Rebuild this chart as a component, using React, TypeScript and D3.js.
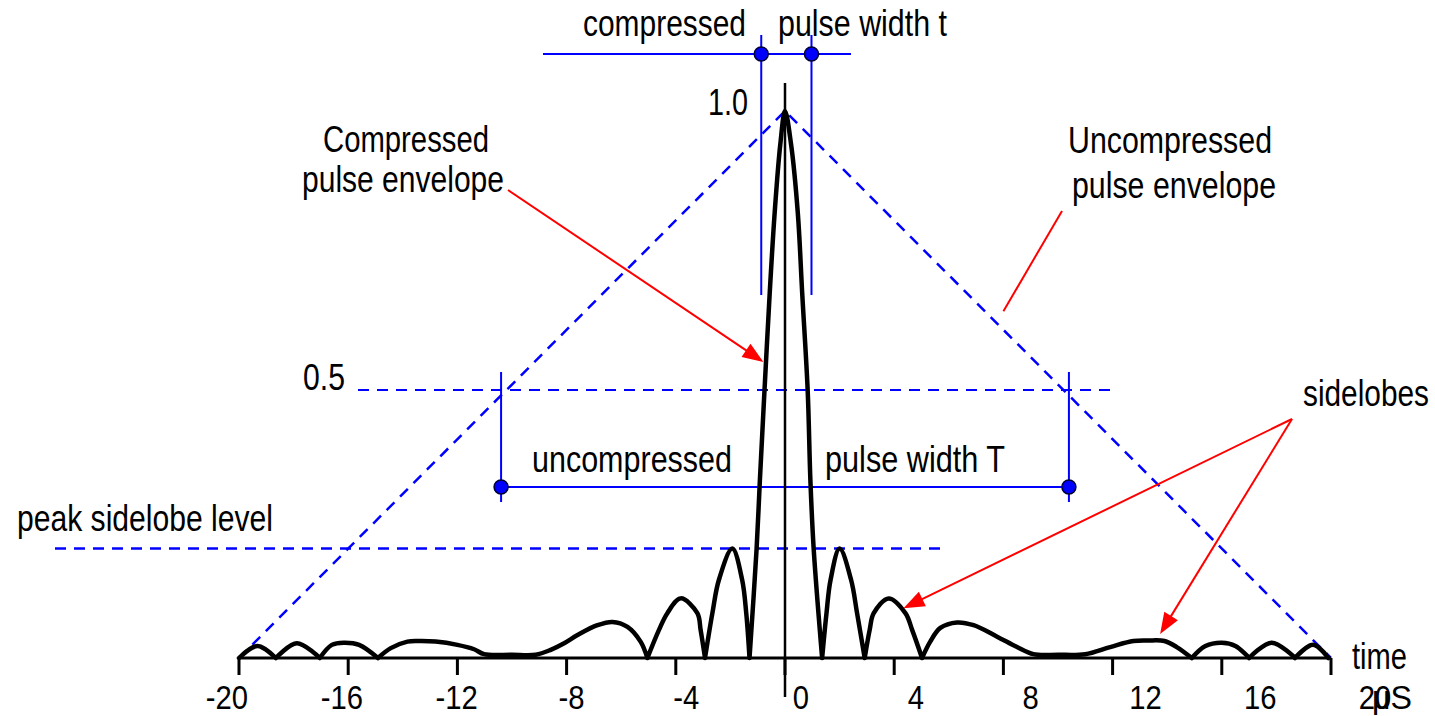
import * as d3 from "d3";

const W = 1435;
const H = 716;
const FONT = "'Liberation Sans', Arial, Helvetica, sans-serif";
const BLUE = "#0000ff";
const RED = "#ff0000";

// x axis ticks (microseconds)
const xTicks = [-20, -16, -12, -8, -4, 0, 4, 8, 12, 16, 20];

// uncompressed (triangular) pulse envelope
const envelope: [number, number][] = [
  [-20, 0],
  [0, 1],
  [20, 0],
];

// compressed pulse, [time, amplitude]
const pulse: [number, number][] = [
  [-20.0, 0], [-19.32, 0.022], [-18.65, 0],
  [-17.88, 0.027], [-17.04, 0],
  [-16.6, 0.024], [-16.16, 0.028], [-15.6, 0.024], [-14.91, 0],
  [-14.44, 0.018], [-13.83, 0.03], [-13.34, 0.031], [-12.8, 0.03], [-12.0, 0.024],
  [-11.39, 0.016], [-11.02, 0.007], [-10.0, 0.006], [-9.13, 0.006], [-8.58, 0.015],
  [-8.09, 0.027], [-7.6, 0.042], [-6.87, 0.06], [-6.32, 0.066], [-5.77, 0.057],
  [-5.29, 0.03], [-5.04, 0],
  [-4.62, 0.051], [-4.31, 0.082], [-3.82, 0.109], [-3.21, 0.082], [-3.09, 0.051], [-2.93, 0],
  [-2.66, 0.082], [-2.42, 0.143], [-1.93, 0.2], [-1.57, 0.143], [-1.42, 0.082], [-1.3, 0],
  [-1.04, 0.2], [-0.92, 0.325], [-0.75, 0.49], [-0.56, 0.667], [-0.38, 0.813], [-0.17, 0.94],
  [0, 1], [0.22, 0.94], [0.47, 0.813], [0.63, 0.667], [0.83, 0.49], [0.93, 0.325], [1.05, 0.2],
  [1.36, 0],
  [1.52, 0.082], [1.67, 0.143], [2.0, 0.2], [2.42, 0.143], [2.64, 0.082], [2.92, 0],
  [3.1, 0.051], [3.25, 0.082], [3.8, 0.109], [4.41, 0.082], [4.66, 0.051], [5.02, 0],
  [5.32, 0.03], [5.69, 0.055], [6.3, 0.065], [6.91, 0.06], [7.77, 0.039], [8.5, 0.02],
  [9.1, 0.007], [10.0, 0.006], [11.0, 0.007], [11.91, 0.02], [12.76, 0.031], [13.3, 0.032],
  [13.9, 0.031], [14.35, 0.02], [14.9, 0],
  [15.4, 0.022], [16.0, 0.028], [16.5, 0.022], [17.0, 0],
  [17.83, 0.028], [18.68, 0],
  [19.35, 0.024], [19.9, 0],
];

const halfLevel = 0.49;
const sidelobeLevel = 0.2;
const compressedEdges = [-0.87, 0.97];
const uncompressedEdges = [-10.4, 10.4];

const x = d3.scaleLinear().domain([-20, 20]).range([239, 1331]);
const xLab = d3.scaleLinear().domain([-20, 20]).range([227, 1375]);
const y = d3.scaleLinear().domain([0, 1]).range([658, 111]);

// split the pulse at its nulls so each lobe meets the axis with a cusp
function pulsePath(): string {
  const segs: [number, number][][] = [];
  let cur: [number, number][] = [];
  pulse.forEach((p, i) => {
    cur.push(p);
    if (p[1] === 0 && i > 0) {
      segs.push(cur);
      cur = [p];
    }
  });
  const line = d3
    .line<[number, number]>()
    .x((d) => x(d[0]))
    .y((d) => y(d[1]))
    .curve(d3.curveCatmullRom.alpha(0.5));
  return segs.map((s) => line(s) ?? "").join("");
}

function headPoints(x1: number, y1: number, x2: number, y2: number, len = 21, half = 8) {
  const dx = x2 - x1;
  const dy = y2 - y1;
  const l = Math.hypot(dx, dy);
  const ux = dx / l;
  const uy = dy / l;
  const bx = x2 - ux * len;
  const by = y2 - uy * len;
  return `${x2},${y2} ${bx - uy * half},${by + ux * half} ${bx + uy * half},${by - ux * half}`;
}

const Arrow = ({ x1, y1, x2, y2 }: { x1: number; y1: number; x2: number; y2: number }) => {
  const l = Math.hypot(x2 - x1, y2 - y1);
  const ex = x2 - ((x2 - x1) / l) * 15;
  const ey = y2 - ((y2 - y1) / l) * 15;
  return (
    <g>
      <line x1={x1} y1={y1} x2={ex} y2={ey} stroke={RED} strokeWidth={2} />
      <polygon points={headPoints(x1, y1, x2, y2)} fill={RED} />
    </g>
  );
};

const Label = ({
  x: lx,
  y: ly,
  w,
  text,
  anchor = "start",
  size = 36,
}: {
  x: number;
  y: number;
  w: number;
  text: string;
  anchor?: string;
  size?: number;
}) => (
  <text
    x={lx}
    y={ly}
    textLength={w}
    lengthAdjust="spacingAndGlyphs"
    fontSize={size}
    fontFamily={FONT}
    textAnchor={anchor}
    fill="#000"
  >
    {text}
  </text>
);

const tickWidth = (s: string) =>
  s.split("").reduce((a, c) => a + (c === "-" ? 0.333 : 0.556), 0) * 34 * 0.86;

export default function App() {
  const envLine = d3
    .line<[number, number]>()
    .x((d) => x(d[0]))
    .y((d) => y(d[1]));

  const tip1: [number, number] = [x(-0.79), y(0.541)];
  const tip2: [number, number] = [x(4.34), y(0.091)];
  const tip3: [number, number] = [x(13.74), y(0.044)];
  const env2: [number, number] = [x(8.0), y(0.634)];

  return (
    <svg
      width={W}
      height={H}
      style={{ position: "absolute", left: 0, top: 0, background: "#fff" }}
    >
      {/* envelope */}
      <path
        d={envLine(envelope) ?? ""}
        fill="none"
        stroke={BLUE}
        strokeWidth={2.5}
        strokeDasharray="11,8"
      />

      {/* reference levels */}
      <line x1={358} x2={1112} y1={y(halfLevel)} y2={y(halfLevel)} stroke={BLUE} strokeWidth={2} strokeDasharray="11,8" />
      <line x1={55} x2={940} y1={y(sidelobeLevel)} y2={y(sidelobeLevel)} stroke={BLUE} strokeWidth={2.5} strokeDasharray="11,8" />

      {/* compressed width marker */}
      <line x1={543} x2={851} y1={54} y2={54} stroke={BLUE} strokeWidth={2} />
      {compressedEdges.map((t) => (
        <line key={t} x1={x(t)} x2={x(t)} y1={35} y2={295} stroke={BLUE} strokeWidth={2} />
      ))}

      {/* uncompressed width marker */}
      <line x1={x(uncompressedEdges[0])} x2={x(uncompressedEdges[1])} y1={487} y2={487} stroke={BLUE} strokeWidth={2} />
      {uncompressedEdges.map((t) => (
        <line key={t} x1={x(t)} x2={x(t)} y1={372} y2={502} stroke={BLUE} strokeWidth={2} />
      ))}

      {/* axes */}
      <line x1={x(0)} x2={x(0)} y1={83} y2={697} stroke="#000" strokeWidth={2.5} />
      <line x1={x(-20)} x2={x(20)} y1={y(0)} y2={y(0)} stroke="#000" strokeWidth={3} />
      {xTicks.map((t) => (
        <line key={t} x1={x(t)} x2={x(t)} y1={y(0)} y2={y(0) + 17} stroke="#000" strokeWidth={3} />
      ))}
      {xTicks.map((t) => (
        <Label key={t} x={xLab(t)} y={709} w={tickWidth(String(t))} text={String(t)} anchor="middle" size={34} />
      ))}

      {/* compressed pulse */}
      <path
        d={pulsePath()}
        fill="none"
        stroke="#000"
        strokeWidth={4.5}
        strokeLinejoin="round"
        strokeLinecap="round"
      />

      {/* marker dots */}
      {compressedEdges.map((t) => (
        <circle key={t} cx={x(t)} cy={54} r={7} fill={BLUE} stroke="#000033" strokeWidth={1.5} />
      ))}
      {uncompressedEdges.map((t) => (
        <circle key={t} cx={x(t)} cy={487} r={7} fill={BLUE} stroke="#000033" strokeWidth={1.5} />
      ))}

      {/* red pointers */}
      <Arrow x1={508} y1={190} x2={tip1[0]} y2={tip1[1]} />
      <line x1={1062} y1={211} x2={env2[0]} y2={env2[1]} stroke={RED} strokeWidth={2} />
      <Arrow x1={1292} y1={419} x2={tip2[0]} y2={tip2[1]} />
      <Arrow x1={1292} y1={419} x2={tip3[0]} y2={tip3[1]} />

      {/* text */}
      <Label x={583} y={36} w={163} text="compressed" />
      <Label x={778} y={36} w={169} text="pulse width t" />
      <Label x={708} y={115} w={40} text="1.0" />
      <Label x={323} y={152} w={166} text="Compressed" />
      <Label x={302} y={192} w={202} text="pulse envelope" />
      <Label x={1068} y={153} w={204} text="Uncompressed" />
      <Label x={1072} y={198} w={204} text="pulse envelope" />
      <Label x={303} y={390} w={42} text="0.5" />
      <Label x={532} y={472} w={200} text="uncompressed" />
      <Label x={825} y={472} w={180} text="pulse width T" />
      <Label x={17} y={531} w={256} text="peak sidelobe level" />
      <Label x={1303} y={406} w={126} text="sidelobes" />
      <Label x={1352} y={669} w={55} text="time" />
      <Label x={1372} y={709} w={40} text="μS" size={34} />
    </svg>
  );
}
